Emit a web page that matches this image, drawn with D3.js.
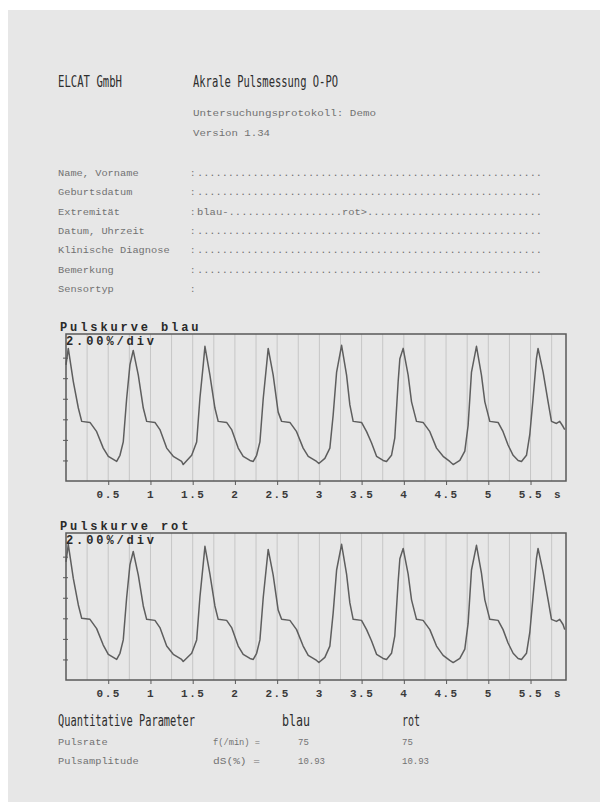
<!DOCTYPE html>
<html lang="de">
  <head>
    <meta charset="UTF-8" />
    <title>Akrale Pulsmessung O-PO</title>
    <script src="https://d3js.org/d3.v7.min.js"></script>
    <style>
      body {
        margin: 0;
        background: #ffffff;
      }
      .head {
        font-family: "DejaVu Sans Mono", monospace;
        font-size: 16px;
        fill: #2e2e2e;
      }
      .small {
        font-family: "Liberation Mono", monospace;
        font-size: 9px;
        fill: #727272;
      }
      .bold {
        font-family: "Liberation Mono", monospace;
        font-weight: bold;
        font-size: 12px;
        fill: #2a2a2a;
        letter-spacing: 2.9px;
      }
      .grid line {
        stroke: #c6c6c6;
        stroke-width: 1;
      }
      .frame {
        fill: none;
        stroke: #5a5a5a;
        stroke-width: 1.5;
      }
      .curve {
        fill: none;
        stroke: #5e5e5e;
        stroke-width: 1.5;
        stroke-linejoin: round;
      }
      .axis text {
        font-family: "Liberation Mono", monospace;
        font-weight: bold;
        font-size: 11px;
        fill: #3a3a3a;
        letter-spacing: 1.5px;
      }
      .axis line {
        stroke: #5a5a5a;
      }
    </style>
  </head>
  <body>
    <svg id="page" width="608" height="811"></svg>
    <script>
      // form fields of the protocol
      const formLabels = [
        "Name, Vorname",
        "Geburtsdatum",
        "Extremität",
        "Datum, Uhrzeit",
        "Klinische Diagnose",
        "Bemerkung",
        "Sensortyp",
      ];

      // x axis tick values (s) and y ticks (%)
      const xTicks = [0.5, 1, 1.5, 2, 2.5, 3, 3.5, 4, 4.5, 5, 5.5];
      const yTicks = [2, 4, 6, 8, 10, 12];

      // pulse curve blau: [time s, amplitude %]
      const pulsBlau = [
        [0.0, 11.3], [0.027, 12.9], [0.086, 9.7], [0.146, 7.1], [0.186, 5.8],
        [0.284, 5.7], [0.363, 4.8], [0.441, 3.2], [0.501, 2.4], [0.58, 2.0],
        [0.6, 1.9], [0.639, 2.5], [0.678, 3.8], [0.718, 8.0], [0.757, 11.3],
        [0.796, 12.7], [0.856, 10.3], [0.915, 7.1], [0.955, 5.8], [1.053, 5.7],
        [1.112, 5.0], [1.192, 3.2], [1.27, 2.4], [1.369, 1.9], [1.388, 1.6],
        [1.488, 2.5], [1.547, 3.8], [1.586, 8.1], [1.625, 11.3], [1.645, 13.1],
        [1.704, 10.3], [1.763, 7.1], [1.802, 5.8], [1.902, 5.7], [1.961, 5.0],
        [2.039, 3.2], [2.098, 2.4], [2.178, 2.0], [2.217, 1.9], [2.257, 2.5],
        [2.296, 3.8], [2.335, 8.0], [2.375, 11.3], [2.394, 12.9], [2.453, 10.3],
        [2.512, 6.7], [2.553, 5.8], [2.651, 5.7], [2.73, 4.8], [2.808, 3.2],
        [2.868, 2.4], [2.967, 1.9], [2.994, 1.7], [3.065, 2.2], [3.124, 3.2],
        [3.163, 6.4], [3.204, 10.6], [3.263, 13.2], [3.322, 10.3], [3.361, 7.4],
        [3.4, 5.8], [3.499, 5.7], [3.559, 4.8], [3.618, 3.7], [3.677, 2.4],
        [3.755, 2.0], [3.795, 1.9], [3.854, 2.5], [3.893, 4.2], [3.933, 9.7],
        [3.953, 11.9], [3.992, 12.9], [4.051, 10.3], [4.091, 7.7], [4.15, 5.8],
        [4.228, 5.7], [4.308, 4.8], [4.387, 3.2], [4.465, 2.4], [4.544, 1.9],
        [4.584, 1.6], [4.663, 2.0], [4.722, 2.9], [4.761, 5.4], [4.801, 10.6],
        [4.86, 13.1], [4.919, 10.3], [4.959, 7.7], [5.018, 5.8], [5.116, 5.7],
        [5.175, 4.8], [5.234, 3.5], [5.294, 2.5], [5.353, 2.0], [5.393, 1.9],
        [5.452, 2.5], [5.491, 4.5], [5.53, 8.0], [5.57, 11.9], [5.589, 12.9],
        [5.649, 10.6], [5.708, 7.7], [5.748, 5.8], [5.807, 5.6], [5.846, 5.8],
        [5.885, 5.3], [5.905, 5.0],
      ];

      // pulse curve rot: [time s, amplitude %]
      const pulsRot = [
        [0.0, 11.5], [0.027, 13.2], [0.086, 9.9], [0.146, 7.3], [0.186, 6.0],
        [0.284, 5.9], [0.363, 5.0], [0.441, 3.4], [0.501, 2.5], [0.58, 2.1],
        [0.6, 2.0], [0.639, 2.6], [0.678, 3.9], [0.718, 8.0], [0.757, 11.2],
        [0.796, 12.5], [0.856, 10.2], [0.915, 7.2], [0.955, 5.9], [1.053, 5.8],
        [1.112, 5.1], [1.192, 3.3], [1.27, 2.5], [1.369, 2.0], [1.388, 1.8],
        [1.488, 2.6], [1.547, 3.9], [1.586, 8.1], [1.625, 11.3], [1.645, 13.0],
        [1.704, 10.3], [1.763, 7.2], [1.802, 5.9], [1.902, 5.8], [1.961, 5.1],
        [2.039, 3.3], [2.098, 2.5], [2.178, 2.1], [2.217, 2.0], [2.257, 2.6],
        [2.296, 3.9], [2.335, 8.0], [2.375, 11.2], [2.394, 12.7], [2.453, 10.2],
        [2.512, 6.8], [2.553, 5.9], [2.651, 5.8], [2.73, 4.9], [2.808, 3.3],
        [2.868, 2.4], [2.967, 1.9], [2.994, 1.7], [3.065, 2.2], [3.124, 3.3],
        [3.163, 6.5], [3.204, 10.7], [3.263, 13.2], [3.322, 10.3], [3.361, 7.5],
        [3.4, 5.9], [3.499, 5.8], [3.559, 4.9], [3.618, 3.8], [3.677, 2.5],
        [3.755, 2.1], [3.795, 2.0], [3.854, 2.6], [3.893, 4.3], [3.933, 9.6],
        [3.953, 11.8], [3.992, 12.8], [4.051, 10.3], [4.091, 7.8], [4.15, 5.9],
        [4.228, 5.8], [4.308, 4.9], [4.387, 3.3], [4.465, 2.4], [4.544, 1.9],
        [4.584, 1.7], [4.663, 2.1], [4.722, 3.0], [4.761, 5.5], [4.801, 10.7],
        [4.86, 13.1], [4.919, 10.4], [4.959, 7.8], [5.018, 5.9], [5.116, 5.8],
        [5.175, 4.9], [5.234, 3.6], [5.294, 2.6], [5.353, 2.1], [5.393, 2.0],
        [5.452, 2.6], [5.491, 4.6], [5.53, 8.1], [5.57, 11.8], [5.589, 12.8],
        [5.649, 10.5], [5.708, 7.8], [5.748, 5.9], [5.807, 5.7], [5.846, 5.9],
        [5.885, 5.4], [5.905, 4.9],
      ];

      // quantitative parameters
      const paramNames = ["Pulsrate", "Pulsamplitude"];
      const paramUnits = ["f(/min) =", "dS(%)   ="];
      const paramBlau = ["75", "10.93"];
      const paramRot = ["75", "10.93"];

      let svg = d3.select("#page");

      // grey sheet
      svg
        .append("rect")
        .attr("x", 8)
        .attr("y", 10)
        .attr("width", 592)
        .attr("height", 792)
        .attr("fill", "#e7e7e7");

      // header
      svg.append("text").attr("class", "head").attr("x", 58).attr("y", 87)
        .attr("textLength", 64).attr("lengthAdjust", "spacingAndGlyphs")
        .text("ELCAT GmbH");
      svg.append("text").attr("class", "head").attr("x", 193).attr("y", 87)
        .attr("textLength", 145).attr("lengthAdjust", "spacingAndGlyphs")
        .text("Akrale Pulsmessung O-PO");
      svg.append("text").attr("class", "small").attr("x", 193).attr("y", 116)
        .attr("textLength", 183).attr("lengthAdjust", "spacingAndGlyphs")
        .text("Untersuchungsprotokoll:  Demo");
      svg.append("text").attr("class", "small").attr("x", 193).attr("y", 136)
        .attr("textLength", 77).attr("lengthAdjust", "spacingAndGlyphs")
        .text("Version 1.34");

      // form rows
      formLabels.forEach(function (label, i) {
        let yy = 176 + i * 19.3;
        svg.append("text").attr("class", "small").attr("x", 58).attr("y", yy)
          .attr("textLength", label.length * 6.2)
          .attr("lengthAdjust", "spacingAndGlyphs")
          .text(label);
        svg.append("text").attr("class", "small").attr("x", 190).attr("y", yy).text(":");
        if (label == "Extremität") {
          svg.append("text").attr("class", "small").attr("x", 197).attr("y", yy)
            .attr("textLength", 145).attr("lengthAdjust", "spacingAndGlyphs")
            .text("blau-" + ".".repeat(18));
          svg.append("text").attr("class", "small").attr("x", 342).attr("y", yy)
            .attr("textLength", 200).attr("lengthAdjust", "spacingAndGlyphs")
            .text("rot>" + ".".repeat(28));
        } else if (label != "Sensortyp") {
          svg.append("text").attr("class", "small").attr("x", 197).attr("y", yy)
            .attr("textLength", 345).attr("lengthAdjust", "spacingAndGlyphs")
            .text(".".repeat(56));
        }
      });

      let x = d3.scaleLinear().domain([0, 5.92]).range([66, 566]);
      let line = d3.line();

      function drawChart(top, title, data) {
        let y = d3.scaleLinear().domain([0, 14.3]).range([top + 147, top]);
        let g = svg.append("g");

        // vertical grid every 0.25 s
        g.append("g")
          .attr("class", "grid")
          .selectAll("line")
          .data(d3.range(0.25, 5.9, 0.25))
          .enter()
          .append("line")
          .attr("x1", (d) => x(d))
          .attr("x2", (d) => x(d))
          .attr("y1", top)
          .attr("y2", top + 147);

        g.append("path")
          .datum(data)
          .attr("class", "curve")
          .attr("d", line.x((d) => x(d[0])).y((d) => y(d[1])));

        g.append("rect")
          .attr("class", "frame")
          .attr("x", 66)
          .attr("y", top)
          .attr("width", 500)
          .attr("height", 147);

        let xAxis = g
          .append("g")
          .attr("class", "axis")
          .attr("transform", `translate(0,${top + 147})`)
          .call(d3.axisBottom(x).tickValues(xTicks).tickSize(4).tickPadding(5).tickFormat((d) => d));
        xAxis.select(".domain").remove();
        // unit label sits on the tick label line
        xAxis.append("text").attr("x", 558).attr("y", 9).attr("dy", "0.71em")
          .attr("text-anchor", "middle").text("s");

        let yAxis = g
          .append("g")
          .attr("class", "axis")
          .attr("transform", "translate(68,0)")
          .call(d3.axisLeft(y).tickValues(yTicks).tickSize(5).tickFormat(""));
        yAxis.select(".domain").remove();

        svg.append("text").attr("class", "bold").attr("x", 60).attr("y", top - 3).text(title);
        svg.append("text").attr("class", "bold").attr("x", 66).attr("y", top + 11).text("2.00%/div");
      }

      drawChart(334, "Pulskurve blau", pulsBlau);
      drawChart(533, "Pulskurve rot", pulsRot);

      // quantitative parameters
      svg.append("text").attr("class", "head").attr("x", 58).attr("y", 726)
        .attr("textLength", 137).attr("lengthAdjust", "spacingAndGlyphs")
        .text("Quantitative Parameter");
      svg.append("text").attr("class", "head").attr("x", 282).attr("y", 726)
        .attr("textLength", 28).attr("lengthAdjust", "spacingAndGlyphs").text("blau");
      svg.append("text").attr("class", "head").attr("x", 402).attr("y", 726)
        .attr("textLength", 18).attr("lengthAdjust", "spacingAndGlyphs").text("rot");

      paramNames.forEach(function (name, i) {
        let yy = 745 + i * 19;
        svg.append("text").attr("class", "small").attr("x", 58).attr("y", yy)
          .attr("textLength", name.length * 6.2).attr("lengthAdjust", "spacingAndGlyphs")
          .text(name);
        svg.append("text").attr("class", "small").attr("x", 213).attr("y", yy)
          .attr("textLength", 47).attr("lengthAdjust", "spacingAndGlyphs")
          .text(paramUnits[i]);
        svg.append("text").attr("class", "small").attr("x", 298).attr("y", yy)
          .text(paramBlau[i]);
        svg.append("text").attr("class", "small").attr("x", 402).attr("y", yy)
          .text(paramRot[i]);
      });
    </script>
  </body>
</html>
